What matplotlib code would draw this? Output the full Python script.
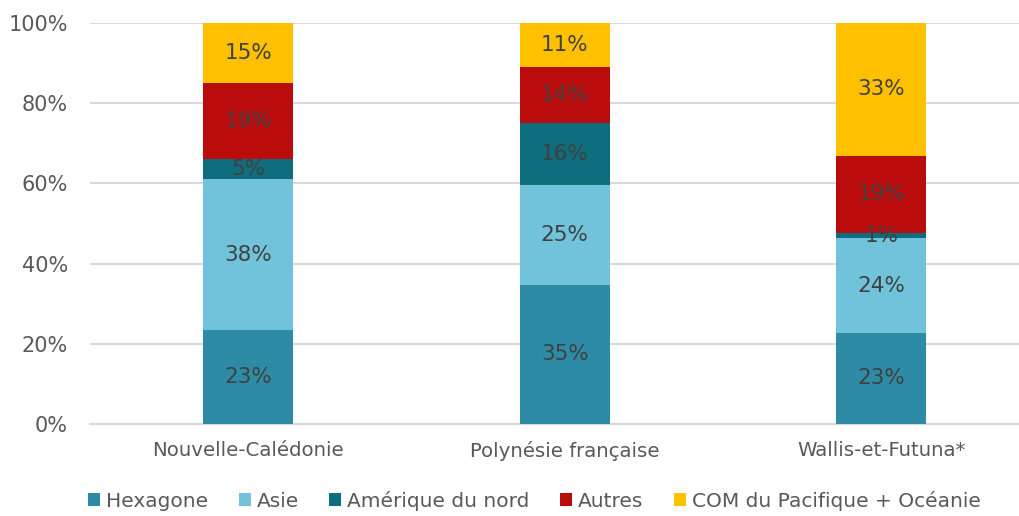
import matplotlib.pyplot as plt
import numpy as np
from matplotlib.ticker import PercentFormatter

territoires = ['Nouvelle-Calédonie', 'Polynésie française', 'Wallis-et-Futuna*']
origines = ['Hexagone', 'Asie', 'Amérique du nord', 'Autres', 'COM du Pacifique + Océanie']

# parts en %
hexagone = [23.4, 34.7, 22.7]
asie = [37.6, 24.9, 23.6]
amerique = [5.0, 15.5, 1.4]
autres = [19.0, 13.9, 19.2]
com_pacifique = [15.0, 11.0, 33.1]

couleurs = ['#2E8BA6', '#70C3DA', '#0E6E7E', '#BA0C0C', '#FFC000']

plt.rcParams['font.family'] = 'DejaVu Sans'

fig = plt.figure(figsize=(10.2, 5.16), dpi=100)
ax = fig.add_axes([90 / 1020, 92 / 516, 949.5 / 1020, 401 / 516])

x = np.arange(len(territoires))
series = [hexagone, asie, amerique, autres, com_pacifique]
bas = np.zeros(len(territoires))
for nom, vals, c in zip(origines, series, couleurs):
    vals = np.array(vals)
    ax.bar(x, vals, 0.284, bottom=bas, color=c, label=nom, zorder=3)
    for xi, b, v in zip(x, bas, vals):
        ax.text(xi, b + v / 2, '%d%%' % round(v), ha='center', va='center',
                fontsize=15.5, color='#404040', zorder=4)
    bas += vals

ax.set_xlim(-0.5, 2.5)
ax.set_ylim(0, 100)
ax.set_yticks(np.arange(0, 101, 20))
ax.yaxis.set_major_formatter(PercentFormatter(decimals=0))
ax.set_xticks(x)
ax.set_xticklabels(territoires)
ax.tick_params(axis='both', length=0, labelsize=15, colors='#595959')
ax.tick_params(axis='x', pad=12, labelsize=14.2)
ax.tick_params(axis='y', pad=16)
ax.grid(axis='y', color='#D9D9D9', linewidth=1.5, zorder=0)
for s in ['top', 'right', 'left']:
    ax.spines[s].set_visible(False)
ax.spines['bottom'].set_color('#D9D9D9')
ax.spines['bottom'].set_linewidth(1.5)

leg = fig.legend(loc='lower center', bbox_to_anchor=(0.524, -0.025), ncol=5, frameon=False,
                 fontsize=14.5, handlelength=0.6, handleheight=0.6, handletextpad=0.3,
                 columnspacing=1.5)
for t in leg.get_texts():
    t.set_color('#595959')

fig.savefig('out.png', dpi=100)
